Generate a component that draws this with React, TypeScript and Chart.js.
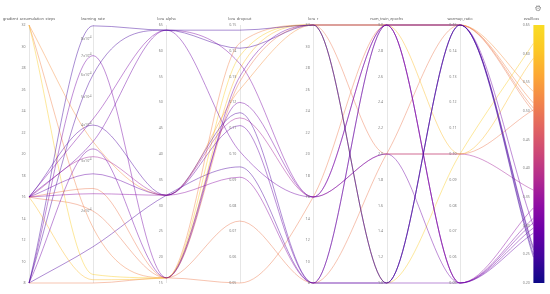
import React, { useEffect, useRef } from "react";
import { Chart, registerables } from "chart.js";
Chart.register(...registerables);

const dimensions = ["gradient_accumulation_steps", "learning_rate", "lora_alpha", "lora_dropout", "lora_r", "num_train_epochs", "warmup_ratio", "eval/loss"];

// one entry per run
const gradAccum = [8, 8, 16, 8, 16, 16, 8, 16, 16, 16, 32, 16, 32, 32, 8, 16, 16, 8];
const learningRate = [8.9e-4, 6.0e-4, 4.0e-4, 3.3e-4, 2.7e-4, 3.5e-4, 7.0e-4, 4.2e-4, 2.3e-4, 3.1e-4, 1.2e-4, 1.15e-4, 3.5e-4, 1.75e-4, 1.12e-4, 2.0e-4, 2.4e-4, 1.5e-4];
const loraAlpha = [64, 64, 32, 16, 32, 64, 16, 64, 32, 32, 16, 16, 32, 16, 16, 16, 16, 32];
const loraDropout = [0.148, 0.141, 0.116, 0.13, 0.111, 0.101, 0.12, 0.135, 0.091, 0.114, 0.138, 0.133, 0.125, 0.143, 0.05, 0.074, 0.128, 0.095];
const loraR = [32, 32, 8, 32, 8, 16, 16, 16, 8, 16, 32, 32, 32, 32, 16, 8, 32, 8];
const numTrainEpochs = [1, 1, 3, 3, 1, 2, 3, 3, 3, 2, 1, 3, 3, 3, 3, 2, 2, 1];
const warmupRatio = [0.15, 0.15, 0.15, 0.15, 0.05, 0.05, 0.05, 0.05, 0.05, 0.1, 0.1, 0.1, 0.15, 0.15, 0.15, 0.15, 0.1, 0.15];
const evalLoss = [0.245, 0.25, 0.262, 0.3, 0.287, 0.296, 0.305, 0.313, 0.331, 0.362, 0.618, 0.592, 0.534, 0.514, 0.505, 0.499, 0.502, 0.258];

// axis ranges and ticks
const axisMin = [8, 1.12e-4, 15, 0.05, 8, 1, 0.05, 0.2];
const axisMax = [32, 8.96e-4, 65, 0.15, 32, 3, 0.15, 0.65];
const gaTicks = [8, 10, 12, 14, 16, 18, 20, 22, 24, 26, 28, 30, 32];
const lrTicks = [2e-4, 3e-4, 4e-4, 5e-4, 6e-4, 7e-4, 8e-4];
const alphaTicks = [15, 20, 25, 30, 35, 40, 45, 50, 55, 60, 65];
const dropoutTicks = [0.05, 0.06, 0.07, 0.08, 0.09, 0.1, 0.11, 0.12, 0.13, 0.14, 0.15];
const rTicks = [8, 10, 12, 14, 16, 18, 20, 22, 24, 26, 28, 30, 32];
const epochTicks = [1.0, 1.2, 1.4, 1.6, 1.8, 2.0, 2.2, 2.4, 2.6, 2.8, 3.0];
const warmupTicks = [0.05, 0.06, 0.07, 0.08, 0.09, 0.1, 0.11, 0.12, 0.13, 0.14, 0.15];
const lossTicks = [0.2, 0.25, 0.3, 0.35, 0.4, 0.45, 0.5, 0.55, 0.6, 0.65];

const columns = [gradAccum, learningRate, loraAlpha, loraDropout, loraR, numTrainEpochs, warmupRatio, evalLoss];
const tickSets = [gaTicks, lrTicks, alphaTicks, dropoutTicks, rTicks, epochTicks, warmupTicks, lossTicks];
const tickDigits = [0, -1, 0, 2, 0, 1, 2, 2];
const AXIS_X = [0.128, 1, 2, 3, 4, 5, 6, 7];

const PLASMA = ["#0d0887", "#41049d", "#6a00a8", "#8f0da4", "#b12a90", "#cc4778", "#e16462", "#f2844b", "#fca636", "#fcc726", "#f9dc24"];

function hexToRgb(h: string) {
  const n = parseInt(h.slice(1), 16);
  return [(n >> 16) & 255, (n >> 8) & 255, n & 255];
}
function plasma(t: number, a: number) {
  t = Math.max(0, Math.min(1, t));
  const p = t * (PLASMA.length - 1);
  const i = Math.min(PLASMA.length - 2, Math.floor(p));
  const f = p - i;
  const c0 = hexToRgb(PLASMA[i]);
  const c1 = hexToRgb(PLASMA[i + 1]);
  const c = c0.map((v, k) => Math.round(v + (c1[k] - v) * f));
  return `rgba(${c[0]},${c[1]},${c[2]},${a})`;
}

function norm(dim: number, v: number) {
  if (dim === 1) {
    return (Math.log(v) - Math.log(axisMin[1])) / (Math.log(axisMax[1]) - Math.log(axisMin[1]));
  }
  return (v - axisMin[dim]) / (axisMax[dim] - axisMin[dim]);
}

const FONT = "'Noto Sans', 'DejaVu Sans', sans-serif";

const axisPlugin = {
  id: "pcAxes",
  beforeDatasetsDraw(chart: any) {
    const { ctx } = chart;
    const x = chart.scales.x;
    const y = chart.scales.y;
    const top = y.getPixelForValue(1);
    const bottom = y.getPixelForValue(0);
    ctx.save();
    ctx.strokeStyle = "#e6e6e6";
    ctx.lineWidth = 1;
    AXIS_X.forEach((ax, i) => {
      if (i === 7) return;
      const px = Math.round(x.getPixelForValue(ax)) + 0.5;
      ctx.beginPath();
      ctx.moveTo(px, top);
      ctx.lineTo(px, bottom);
      ctx.stroke();
    });
    const cx = x.getPixelForValue(AXIS_X[7]);
    const grad = ctx.createLinearGradient(0, bottom, 0, top);
    PLASMA.forEach((c, k) => grad.addColorStop(k / (PLASMA.length - 1), c));
    ctx.fillStyle = grad;
    ctx.fillRect(cx, top, 11, bottom - top);
    ctx.restore();
  },
  afterDatasetsDraw(chart: any) {
    const { ctx } = chart;
    const x = chart.scales.x;
    const y = chart.scales.y;
    ctx.save();
    ctx.textBaseline = "middle";
    AXIS_X.forEach((ax, i) => {
      const px = x.getPixelForValue(ax);
      ctx.font = `3.8px ${FONT}`;
      ctx.fillStyle = "#555";
      ctx.textAlign = "center";
      ctx.fillText(dimensions[i], i === 7 ? px - 2 : px, 18.5);
      tickSets[i].forEach((t) => {
        const py = y.getPixelForValue(norm(i, t));
        ctx.fillStyle = "#808080";
        if (i === 1) {
          const mant = Math.round(t * 1e4);
          ctx.font = `2.6px ${FONT}`;
          ctx.textAlign = "right";
          ctx.fillText("-4", px - 1.5, py - 1.6);
          const sw = ctx.measureText("-4").width;
          ctx.font = `3.6px ${FONT}`;
          ctx.fillText(`${mant}x10`, px - 1.5 - sw, py);
        } else {
          ctx.font = `3.6px ${FONT}`;
          ctx.textAlign = "right";
          const d = tickDigits[i];
          ctx.fillText(d === 0 ? String(t) : t.toFixed(d), px - 3.5, py);
        }
      });
    });
    ctx.font = `8px 'DejaVu Sans', sans-serif`;
    ctx.fillStyle = "#8a8a8a";
    ctx.textAlign = "center";
    ctx.fillText("\u2699", 538, 8.5);
    ctx.restore();
  },
};

export default function App() {
  const ref = useRef<HTMLCanvasElement | null>(null);
  useEffect(() => {
    if (!ref.current) return;
    const datasets = evalLoss.map((loss, r) => ({
      label: `run ${r + 1}`,
      data: columns.map((col, d) => ({ x: AXIS_X[d], y: norm(d, col[r]) })),
      borderColor: plasma((loss - axisMin[7]) / (axisMax[7] - axisMin[7]), 0.5),
      borderWidth: 0.9,
      pointRadius: 0,
      fill: false,
      cubicInterpolationMode: "monotone" as const,
      clip: false as any,
    }));
    const chart = new Chart(ref.current, {
      type: "line",
      data: { datasets },
      options: {
        animation: false,
        responsive: false,
        devicePixelRatio: 1,
        layout: { padding: { left: 19.6, right: 16.6, top: 25, bottom: 11 } },
        scales: {
          x: { type: "linear", min: 0, max: 7, display: false },
          y: { type: "linear", min: 0, max: 1, display: false },
        },
        plugins: { legend: { display: false }, tooltip: { enabled: false } },
      },
      plugins: [axisPlugin],
    });
    return () => chart.destroy();
  }, []);
  return (
    <div style={{ position: "fixed", left: 0, top: 0, width: 550, height: 294, background: "#fff" }}>
      <canvas ref={ref} width={550} height={294} style={{ width: 550, height: 294, display: "block" }} />
    </div>
  );
}
